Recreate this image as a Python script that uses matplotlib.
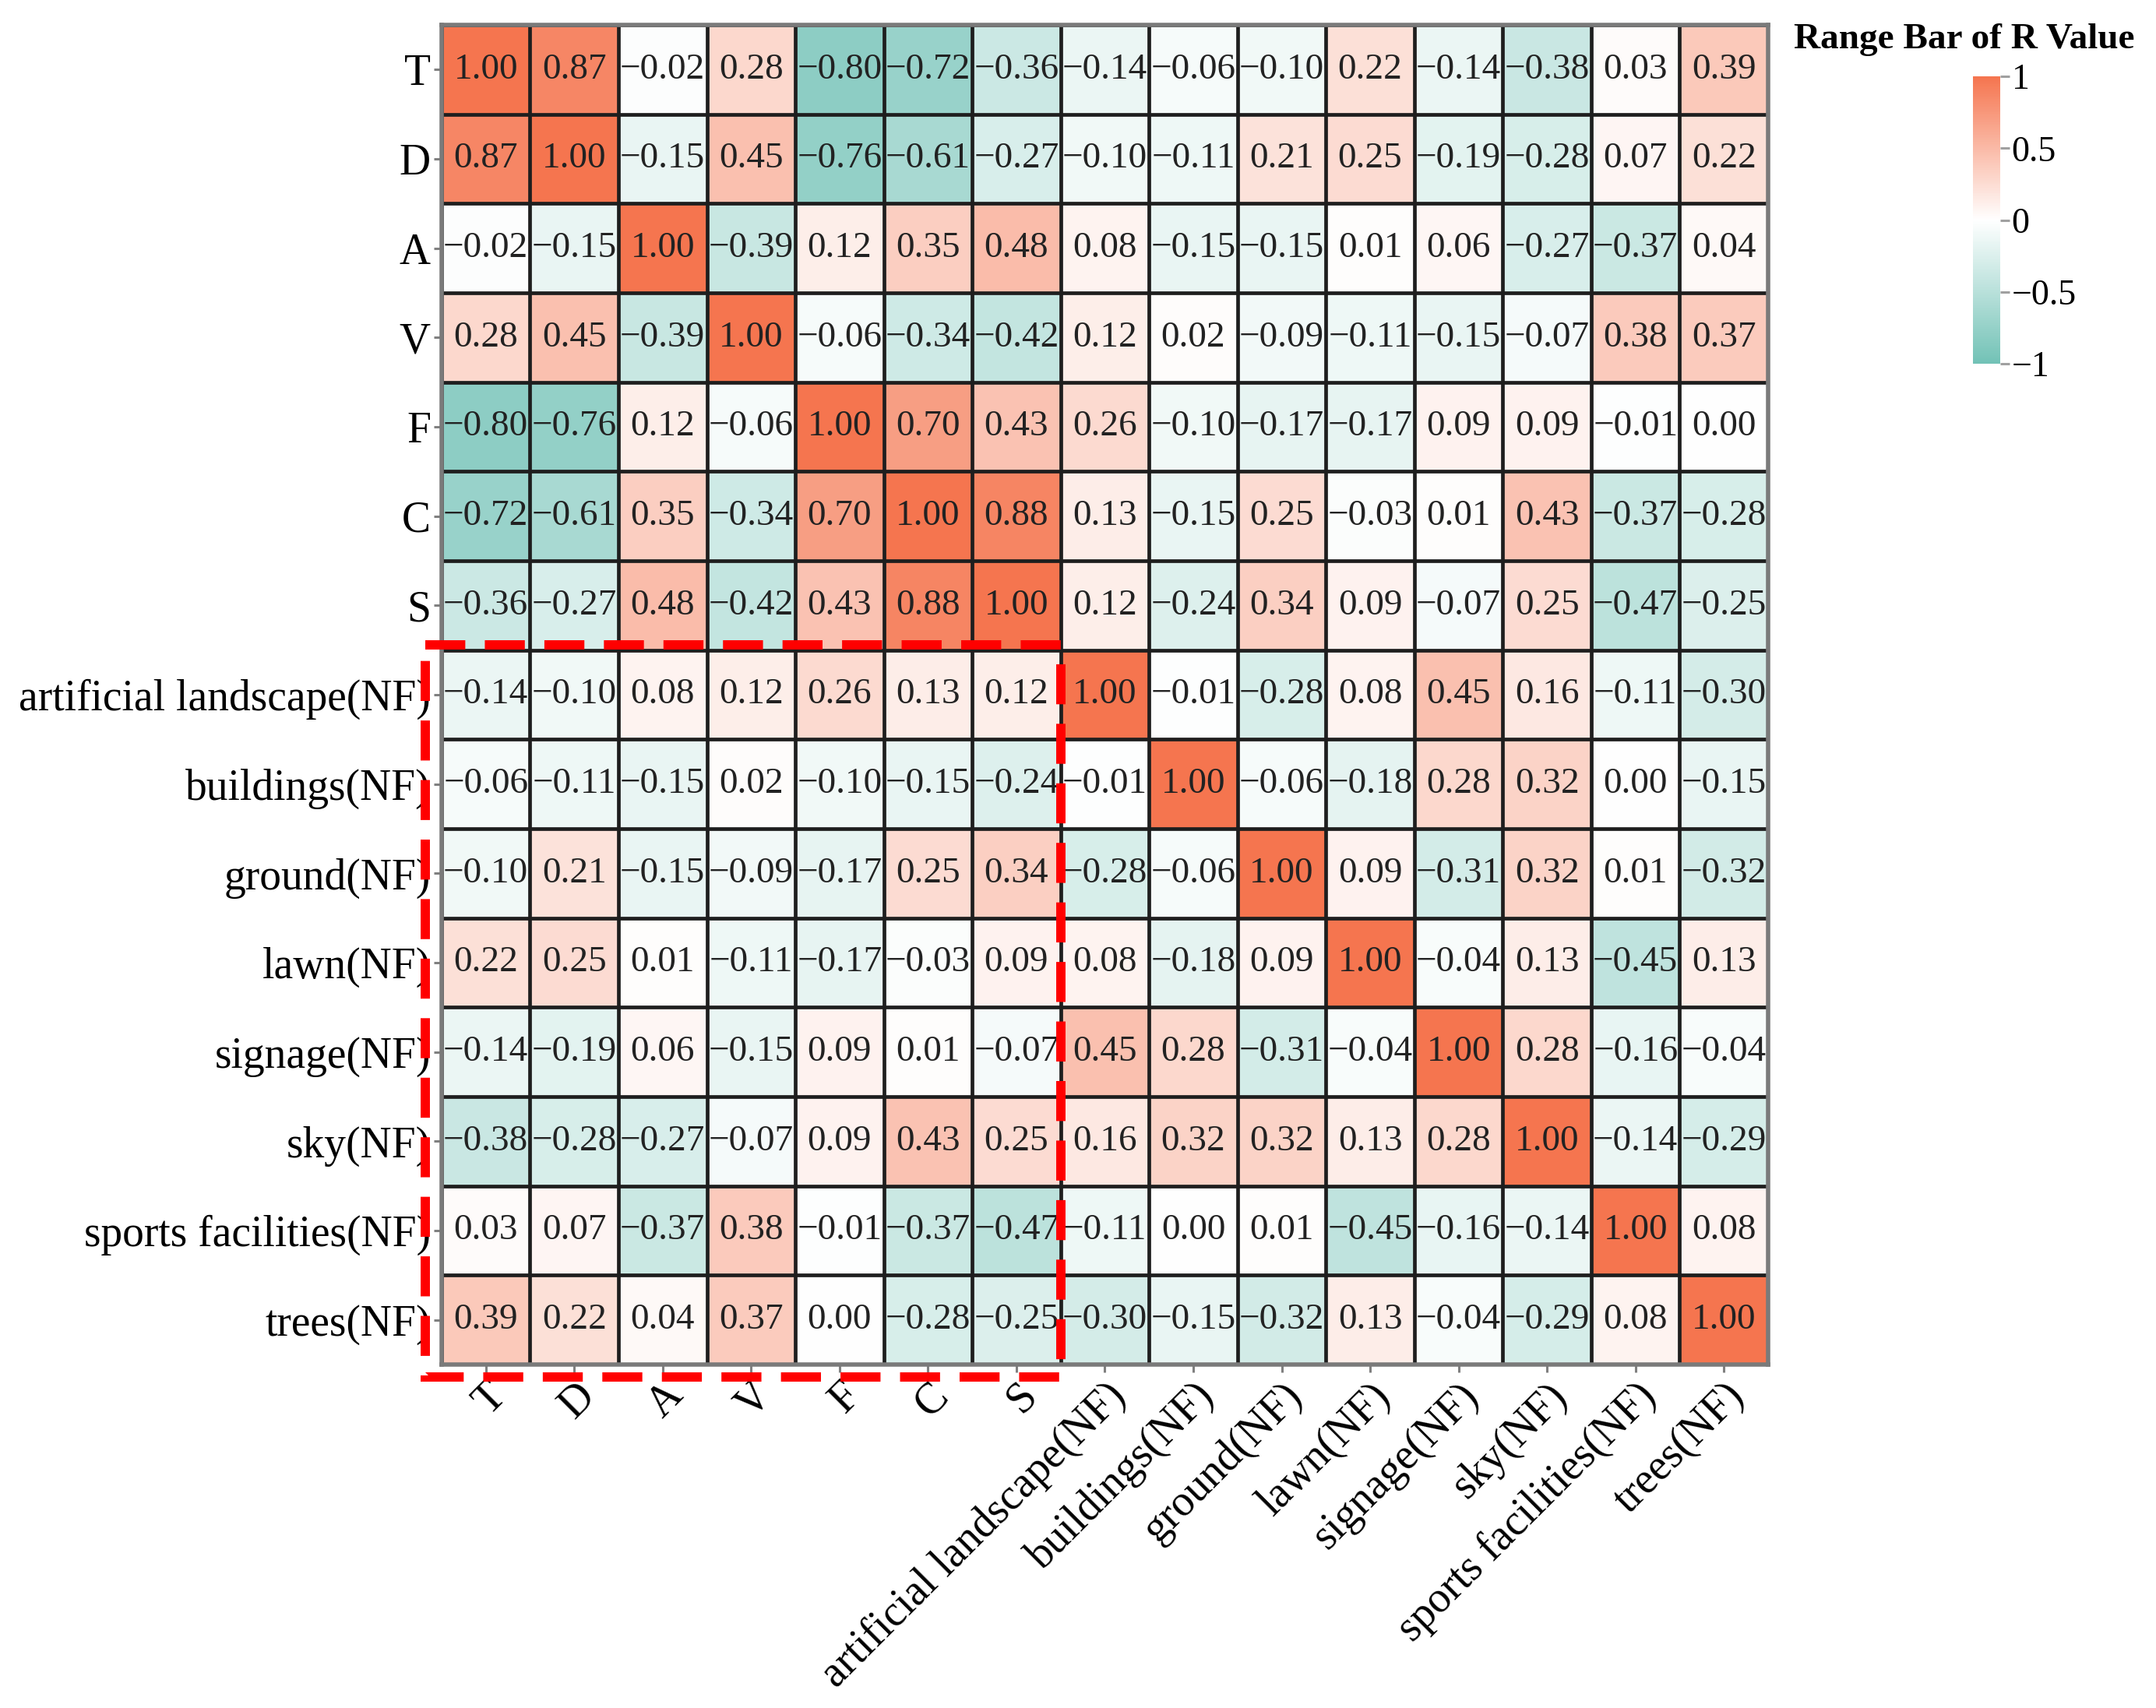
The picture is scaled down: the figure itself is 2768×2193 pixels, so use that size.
import matplotlib
matplotlib.use("Agg")
import matplotlib.pyplot as plt
import numpy as np
from matplotlib.colors import LinearSegmentedColormap
from matplotlib.patches import Rectangle

plt.rcParams['font.family'] = ['Liberation Serif', 'DejaVu Serif']

# variable names (rows = columns)
labels = ['T', 'D', 'A', 'V', 'F', 'C', 'S',
          'artificial landscape(NF)', 'buildings(NF)', 'ground(NF)',
          'lawn(NF)', 'signage(NF)', 'sky(NF)', 'sports facilities(NF)',
          'trees(NF)']

# correlation matrix (R values)
r_values = [
    [1.00, 0.87, -0.02, 0.28, -0.80, -0.72, -0.36, -0.14, -0.06, -0.10, 0.22, -0.14, -0.38, 0.03, 0.39],
    [0.87, 1.00, -0.15, 0.45, -0.76, -0.61, -0.27, -0.10, -0.11, 0.21, 0.25, -0.19, -0.28, 0.07, 0.22],
    [-0.02, -0.15, 1.00, -0.39, 0.12, 0.35, 0.48, 0.08, -0.15, -0.15, 0.01, 0.06, -0.27, -0.37, 0.04],
    [0.28, 0.45, -0.39, 1.00, -0.06, -0.34, -0.42, 0.12, 0.02, -0.09, -0.11, -0.15, -0.07, 0.38, 0.37],
    [-0.80, -0.76, 0.12, -0.06, 1.00, 0.70, 0.43, 0.26, -0.10, -0.17, -0.17, 0.09, 0.09, -0.01, 0.00],
    [-0.72, -0.61, 0.35, -0.34, 0.70, 1.00, 0.88, 0.13, -0.15, 0.25, -0.03, 0.01, 0.43, -0.37, -0.28],
    [-0.36, -0.27, 0.48, -0.42, 0.43, 0.88, 1.00, 0.12, -0.24, 0.34, 0.09, -0.07, 0.25, -0.47, -0.25],
    [-0.14, -0.10, 0.08, 0.12, 0.26, 0.13, 0.12, 1.00, -0.01, -0.28, 0.08, 0.45, 0.16, -0.11, -0.30],
    [-0.06, -0.11, -0.15, 0.02, -0.10, -0.15, -0.24, -0.01, 1.00, -0.06, -0.18, 0.28, 0.32, 0.00, -0.15],
    [-0.10, 0.21, -0.15, -0.09, -0.17, 0.25, 0.34, -0.28, -0.06, 1.00, 0.09, -0.31, 0.32, 0.01, -0.32],
    [0.22, 0.25, 0.01, -0.11, -0.17, -0.03, 0.09, 0.08, -0.18, 0.09, 1.00, -0.04, 0.13, -0.45, 0.13],
    [-0.14, -0.19, 0.06, -0.15, 0.09, 0.01, -0.07, 0.45, 0.28, -0.31, -0.04, 1.00, 0.28, -0.16, -0.04],
    [-0.38, -0.28, -0.27, -0.07, 0.09, 0.43, 0.25, 0.16, 0.32, 0.32, 0.13, 0.28, 1.00, -0.14, -0.29],
    [0.03, 0.07, -0.37, 0.38, -0.01, -0.37, -0.47, -0.11, 0.00, 0.01, -0.45, -0.16, -0.14, 1.00, 0.08],
    [0.39, 0.22, 0.04, 0.37, 0.00, -0.28, -0.25, -0.30, -0.15, -0.32, 0.13, -0.04, -0.29, 0.08, 1.00],
]

cbar_ticks = [-1, -0.5, 0, 0.5, 1]
cbar_ticklabels = ['\u22121', '\u22120.5', '0', '0.5', '1']

R = np.array(r_values)
n = len(labels)

cmap = LinearSegmentedColormap.from_list('rbar', ['#72C2B6', '#FFFFFF', '#F5754F'])

fig = plt.figure(figsize=(27.68, 21.93), dpi=100)
ax = fig.add_axes([0.2048, 0.2011, 0.6153, 0.7843])

im = ax.imshow(R, cmap=cmap, vmin=-1, vmax=1, aspect='auto')

# cell borders
ax.set_xticks(np.arange(-0.5, n, 1), minor=True)
ax.set_yticks(np.arange(-0.5, n, 1), minor=True)
ax.grid(which='minor', color='#1e1e1e', linewidth=3.4)
ax.tick_params(which='minor', length=0)

# numbers
for i in range(n):
    for j in range(n):
        txt = f"{R[i, j]:.2f}".replace('-', '\u2212')
        ax.text(j, i, txt, ha='center', va='center', fontsize=34, color='#222222')

ax.set_xticks(range(n))
ax.set_yticks(range(n))
ax.set_xticklabels(labels, rotation=45, ha='right', va='top', rotation_mode='anchor', fontsize=40)
ax.set_yticklabels(labels, fontsize=40)
ax.tick_params(which='major', length=7, width=2.2, color='#808080', pad=3)

for sp in ax.spines.values():
    sp.set_color('#7a7a7a')
    sp.set_linewidth(4)

# red dashed box: T..S against the NF variables
box = Rectangle((-0.68, 6.44), 7.18, 8.2, fill=False, edgecolor='#FF0000',
                linewidth=8.6, linestyle=(0, (4.3, 2.1)), clip_on=False, zorder=5)
ax.add_patch(box)

# colour bar
cax = fig.add_axes([0.9151, 0.787, 0.01265, 0.1683])
cb = fig.colorbar(im, cax=cax, ticks=cbar_ticks)
cb.outline.set_visible(False)
cb.ax.set_yticklabels(cbar_ticklabels)
cb.ax.tick_params(labelsize=33, length=8.6, width=2.2, color='#a0a0a0', pad=2)

fig.text(2303 / 2768, 1 - 62 / 2193, 'Range Bar of R Value', fontsize=34,
         fontweight='bold', ha='left', va='baseline')

fig.savefig('out.png', dpi=100)
